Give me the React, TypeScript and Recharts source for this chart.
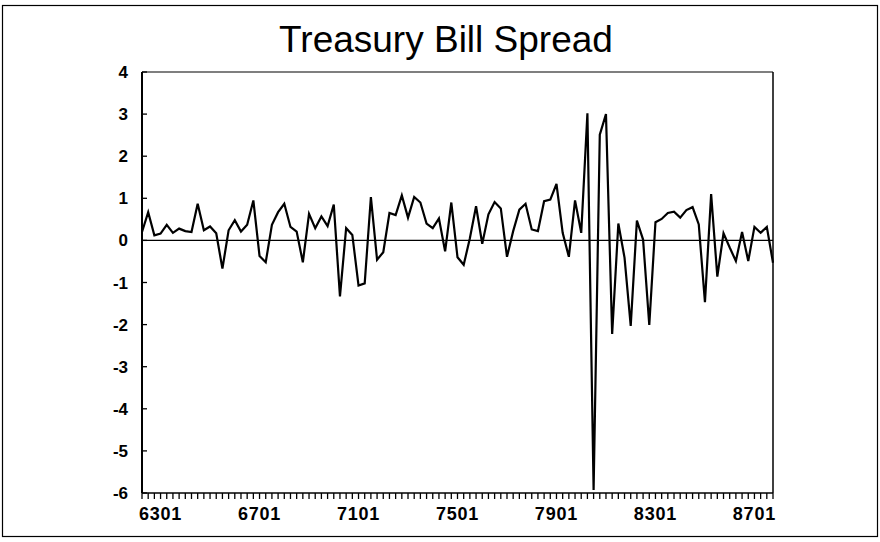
import React from "react";
import { LineChart, Line, XAxis, YAxis, ReferenceLine } from "recharts";

const TITLE = "Treasury Bill Spread";

const QUARTERS = [
  "6202", "6203", "6204",
  "6301", "6302", "6303", "6304", "6401", "6402", "6403", "6404",
  "6501", "6502", "6503", "6504", "6601", "6602", "6603", "6604",
  "6701", "6702", "6703", "6704", "6801", "6802", "6803", "6804",
  "6901", "6902", "6903", "6904", "7001", "7002", "7003", "7004",
  "7101", "7102", "7103", "7104", "7201", "7202", "7203", "7204",
  "7301", "7302", "7303", "7304", "7401", "7402", "7403", "7404",
  "7501", "7502", "7503", "7504", "7601", "7602", "7603", "7604",
  "7701", "7702", "7703", "7704", "7801", "7802", "7803", "7804",
  "7901", "7902", "7903", "7904", "8001", "8002", "8003", "8004",
  "8101", "8102", "8103", "8104", "8201", "8202", "8203", "8204",
  "8301", "8302", "8303", "8304", "8401", "8402", "8403", "8404",
  "8501", "8502", "8503", "8504", "8601", "8602", "8603", "8604",
  "8701", "8702", "8703", "8704",
];

const SPREAD = [
  0.2, 0.67, 0.12, 0.16, 0.37, 0.18, 0.28, 0.22, 0.2, 0.87,
  0.24, 0.33, 0.17, -0.67, 0.24, 0.48, 0.21, 0.37, 0.95, -0.37,
  -0.52, 0.37, 0.67, 0.87, 0.32, 0.21, -0.52, 0.63, 0.29, 0.57,
  0.34, 0.85, -1.33, 0.29, 0.13, -1.07, -1.02, 1.03, -0.46, -0.28,
  0.65, 0.6, 1.07, 0.54, 1.03, 0.9, 0.4, 0.29, 0.52, -0.26,
  0.9, -0.4,
  -0.58, 0.05, 0.81, -0.08, 0.62, 0.91, 0.76, -0.39, 0.22, 0.73,
  0.87, 0.26, 0.22, 0.93, 0.97, 1.34, 0.18, -0.39, 0.95, 0.18,
  3.02, -5.93, 2.51, 3.0, -2.22, 0.4, -0.41, -2.03, 0.47, 0.02,
  -2.01, 0.43, 0.51, 0.65, 0.68, 0.54, 0.72, 0.79, 0.38, -1.47,
  1.1, -0.86, 0.17, -0.17, -0.49, 0.2, -0.49, 0.32, 0.18, 0.32,
  -0.53,
];

const X_TICK_LABELS = ["6301", "6701", "7101", "7501", "7901", "8301", "8701"];
const Y_TICKS = [4, 3, 2, 1, 0, -1, -2, -3, -4, -5, -6];

const data = QUARTERS.map((q, i) => ({ i, q, v: SPREAD[i] }));
const xTicks = QUARTERS.map((_, i) => i);

const FONT = "'Liberation Sans', Arial, sans-serif";

const XTick = (props: any) => {
  const { x, y, payload } = props;
  const label = QUARTERS[payload.value];
  const show = X_TICK_LABELS.includes(label);
  return (
    <g>
      <line x1={x} y1={y} x2={x} y2={y + 6} stroke="#000" strokeWidth={1.3} />
      {show && (
        <text
          x={x}
          y={y + 27}
          textAnchor="middle"
          fontFamily={FONT}
          fontWeight="bold"
          fontSize={18}
          letterSpacing={0.8}
          fill="#000"
        >
          {label}
        </text>
      )}
    </g>
  );
};

const YTick = (props: any) => {
  const { x, y, payload } = props;
  const v = payload.value as number;
  const label = v < 0 ? "-" + Math.abs(v) : String(v);
  return (
    <g>
      <line x1={x} y1={y} x2={x + 5} y2={y} stroke="#000" strokeWidth={1.3} />
      <text
        x={x - 14}
        y={y + 6}
        textAnchor="end"
        fontFamily={FONT}
        fontWeight="bold"
        fontSize={17}
        fill="#000"
      >
        {label}
      </text>
    </g>
  );
};

export default function App() {
  return (
    <div
      style={{
        position: "absolute",
        left: 0,
        top: 0,
        width: 880,
        height: 542,
        background: "#fff",
      }}
    >
      <LineChart
        width={880}
        height={542}
        data={data}
        margin={{ top: 72, right: 107, bottom: 0, left: 0 }}
      >
        <XAxis
          dataKey="i"
          type="number"
          domain={[0, QUARTERS.length - 1]}
          ticks={xTicks}
          interval={0}
          height={49}
          tickSize={0}
          tickMargin={0}
          tickLine={false}
          axisLine={{ stroke: "#000", strokeWidth: 1.5 }}
          tick={<XTick />}
        />
        <YAxis
          type="number"
          domain={[-6, 4]}
          ticks={Y_TICKS}
          interval={0}
          width={142}
          tickSize={0}
          tickMargin={0}
          tickLine={false}
          axisLine={{ stroke: "#000", strokeWidth: 2 }}
          tick={<YTick />}
        />
        <ReferenceLine y={0} stroke="#000" strokeWidth={1.2} />
        <Line
          type="linear"
          dataKey="v"
          stroke="#000"
          strokeWidth={2.2}
          dot={false}
          isAnimationActive={false}
        />
      </LineChart>
      <svg
        width={880}
        height={542}
        style={{ position: "absolute", left: 0, top: 0, pointerEvents: "none" }}
      >
        <rect x={2.5} y={5.5} width={875} height={531} fill="none" stroke="#000" strokeWidth={1.2} />
        <line x1={142} y1={72} x2={773} y2={72} stroke="#000" strokeWidth={1.2} />
        <line x1={773} y1={72} x2={773} y2={493} stroke="#000" strokeWidth={1.5} />
        <text
          x={446}
          y={52}
          textAnchor="middle"
          fontFamily={FONT}
          fontSize={37}
          fill="#000"
        >
          {TITLE}
        </text>
      </svg>
    </div>
  );
}
